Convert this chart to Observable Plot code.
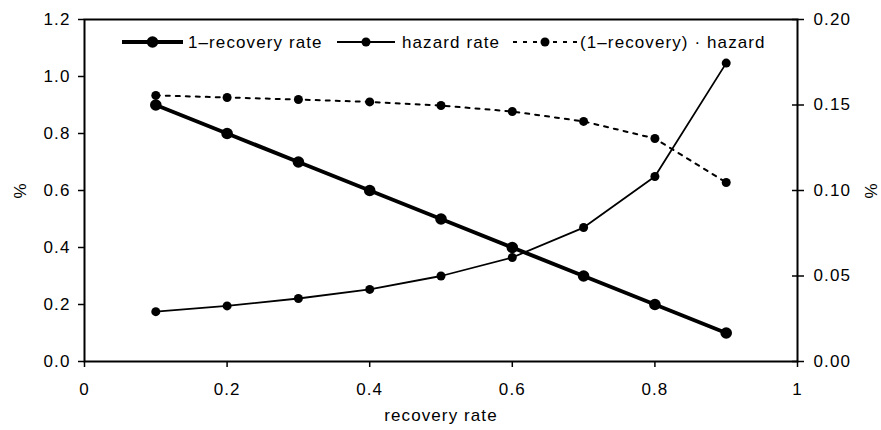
<!DOCTYPE html>
<html>
<head>
<meta charset="utf-8">
<script src="https://cdn.jsdelivr.net/npm/d3@7"></script>
<script src="https://cdn.jsdelivr.net/npm/@observablehq/plot@0.6"></script>
<style>
  body { margin: 0; background: #fff; }
  #wrap { position: relative; width: 881px; height: 430px; font-family: "Liberation Sans", Arial, sans-serif; }
  #legend { position: absolute; left: 0; top: 0; pointer-events: none; }
</style>
</head>
<body>
<div id="wrap"></div>
<script>
const recovery = [0.1, 0.2, 0.3, 0.4, 0.5, 0.6, 0.7, 0.8, 0.9];
const oneMinusRecovery = [0.9, 0.8, 0.7, 0.6, 0.5, 0.4, 0.3, 0.2, 0.1];
const hazard = [0.175, 0.195, 0.221, 0.253, 0.300, 0.365, 0.470, 0.649, 1.047];
const product = [0.1556, 0.1544, 0.1532, 0.1518, 0.1497, 0.1462, 0.1404, 0.1304, 0.1047];
const xTicks = [0, 0.2, 0.4, 0.6, 0.8, 1];
const leftTicks = [0, 0.2, 0.4, 0.6, 0.8, 1.0, 1.2];
const rightTicks = [0, 0.05, 0.10, 0.15, 0.20];
const seriesNames = ["1\u2013recovery rate", "hazard rate", "(1\u2013recovery) \u00b7 hazard"];

const leftMax = 1.2, rightMax = 0.20;
const k = leftMax / rightMax;

const rows = recovery.map((r, i) => ({r, omr: oneMinusRecovery[i], h: hazard[i], p: product[i]}));

const chart = Plot.plot({
  width: 881, height: 430,
  marginLeft: 84, marginRight: 84, marginTop: 19, marginBottom: 69,
  style: {fontFamily: "'Liberation Sans', Arial, sans-serif", fontSize: "17px", letterSpacing: "1.1px", color: "#000", background: "#fff"},
  x: {domain: [0, 1]},
  y: {domain: [0, leftMax]},
  marks: [
    Plot.axisX({ticks: xTicks, tickFormat: d => String(d), tickSize: 6, tickPadding: 15, strokeWidth: 1.5,
      label: "recovery rate", labelAnchor: "center", labelArrow: "none", labelOffset: 59}),
    Plot.axisY({ticks: leftTicks, tickFormat: d => d.toFixed(1), tickSize: 6, tickPadding: 8, strokeWidth: 1.5,
      label: "%", labelAnchor: "center", labelArrow: "none", labelOffset: 71}),
    Plot.axisY({anchor: "right", ticks: rightTicks.map(d => d * k), tickFormat: d => (d / k).toFixed(2),
      tickSize: 6, tickPadding: 10, strokeWidth: 1.5,
      label: "%", labelAnchor: "center", labelArrow: "none", labelOffset: 79}),
    Plot.axisY({anchor: "right", ticks: rightTicks.map(d => d * k), tickSize: -6, text: null, label: null, strokeWidth: 1.5}),
    Plot.frame({stroke: "#000", strokeWidth: 2}),
    Plot.line(rows, {x: "r", y: d => d.p * k, stroke: "#000", strokeWidth: 2, strokeDasharray: "4,6"}),
    Plot.dot(rows, {x: "r", y: d => d.p * k, r: 4.5, fill: "#000"}),
    Plot.line(rows, {x: "r", y: "h", stroke: "#000", strokeWidth: 1.8}),
    Plot.dot(rows, {x: "r", y: "h", r: 4.5, fill: "#000"}),
    Plot.line(rows, {x: "r", y: "omr", stroke: "#000", strokeWidth: 4}),
    Plot.dot(rows, {x: "r", y: "omr", r: 5.8, fill: "#000"})
  ]
});
const wrap = document.getElementById("wrap");
wrap.appendChild(chart);

// legend overlay
const ns = "http://www.w3.org/2000/svg";
const leg = document.createElementNS(ns, "svg");
leg.setAttribute("id", "legend");
leg.setAttribute("width", 881);
leg.setAttribute("height", 80);
const items = [
  {x0: 122, x1: 183, tx: 188, sw: 4, r: 5.8, dash: null},
  {x0: 337, x1: 395, tx: 402, sw: 1.8, r: 4.5, dash: null},
  {x0: 513, x1: 577, tx: 580, sw: 2, r: 4.5, dash: "4,6"}
];
const ly = 42;
items.forEach((it, i) => {
  const ln = document.createElementNS(ns, "line");
  ln.setAttribute("x1", it.x0); ln.setAttribute("x2", it.x1);
  ln.setAttribute("y1", ly); ln.setAttribute("y2", ly);
  ln.setAttribute("stroke", "#000"); ln.setAttribute("stroke-width", it.sw);
  if (it.dash) ln.setAttribute("stroke-dasharray", it.dash);
  leg.appendChild(ln);
  const c = document.createElementNS(ns, "circle");
  c.setAttribute("cx", (it.x0 + it.x1) / 2); c.setAttribute("cy", ly); c.setAttribute("r", it.r);
  c.setAttribute("fill", "#000");
  leg.appendChild(c);
  const t = document.createElementNS(ns, "text");
  t.setAttribute("x", it.tx); t.setAttribute("y", ly);
  t.setAttribute("dy", "0.35em");
  t.setAttribute("font-size", "17px");
  t.setAttribute("letter-spacing", "1.1px");
  t.setAttribute("font-family", "'Liberation Sans', Arial, sans-serif");
  t.textContent = seriesNames[i];
  leg.appendChild(t);
});
wrap.appendChild(leg);
</script>
</body>
</html>
